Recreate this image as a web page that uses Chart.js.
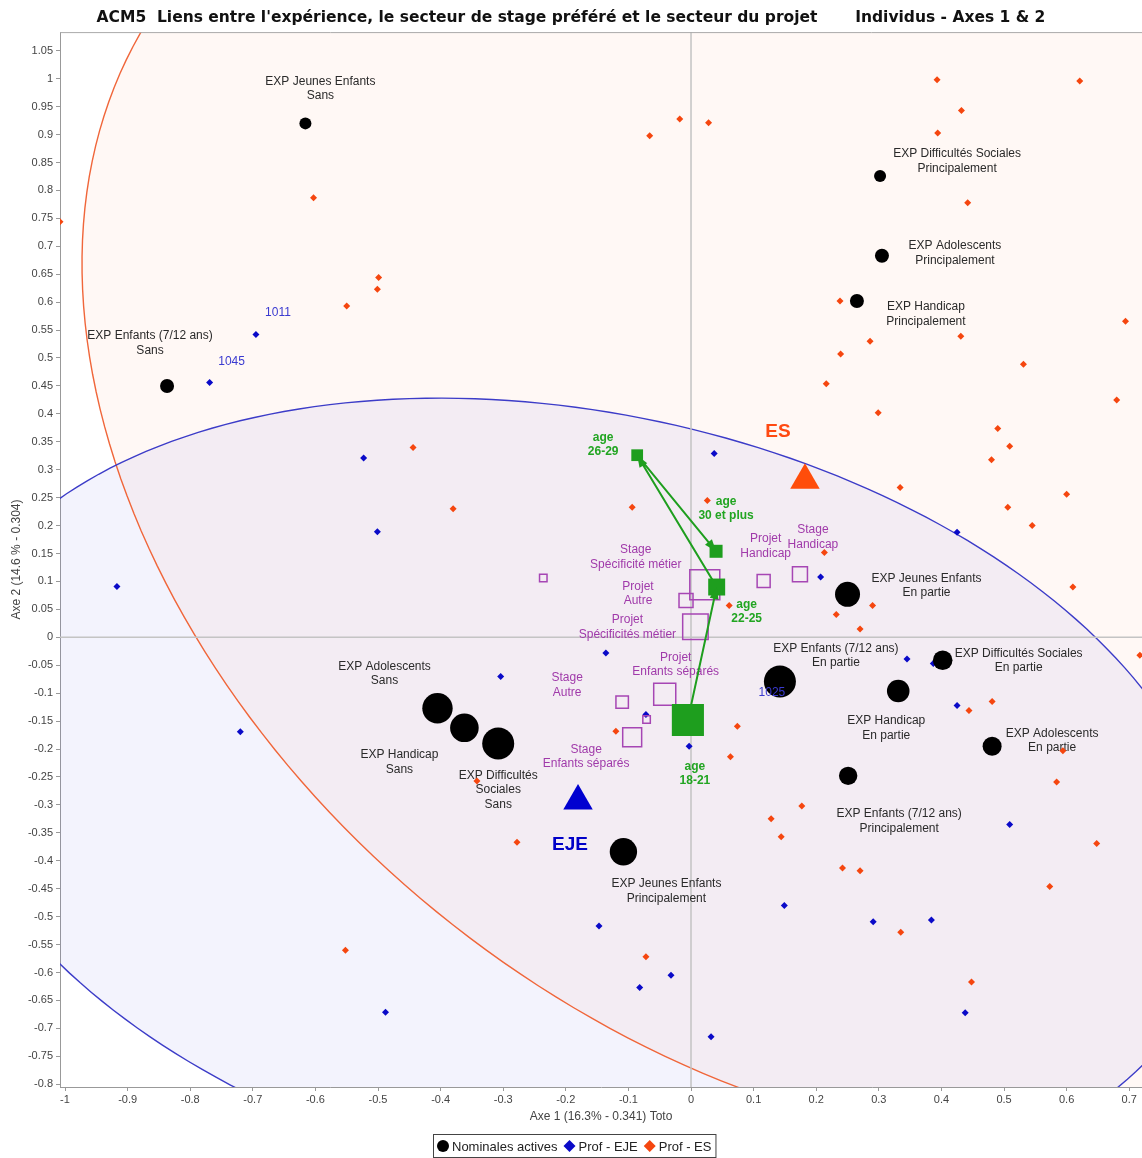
<!DOCTYPE html>
<html>
<head>
<meta charset="utf-8">
<title>ACM5 - Individus - Axes 1 & 2</title>
<script src="https://cdn.jsdelivr.net/npm/chart.js@4.4.1/dist/chart.umd.min.js"></script>
<style>
  html, body { margin: 0; padding: 0; background: #fff; }
</style>
</head>
<body>
<canvas id="acm" width="1142" height="1158"></canvas>
<script>
// ---- modalités actives (expérience) ----
const nomNames = [
  ['EXP Jeunes Enfants', 'Sans'],
  ['EXP Enfants (7/12 ans)', 'Sans'],
  ['EXP Difficultés Sociales', 'Principalement'],
  ['EXP Adolescents', 'Principalement'],
  ['EXP Handicap', 'Principalement'],
  ['EXP Jeunes Enfants', 'En partie'],
  ['EXP Enfants (7/12 ans)', 'En partie'],
  ['EXP Handicap', 'En partie'],
  ['EXP Difficultés Sociales', 'En partie'],
  ['EXP Adolescents', 'En partie'],
  ['EXP Enfants (7/12 ans)', 'Principalement'],
  ['EXP Jeunes Enfants', 'Principalement'],
  ['EXP Adolescents', 'Sans'],
  ['EXP Handicap', 'Sans'],
  ['EXP Difficultés', 'Sociales', 'Sans']
];
const nomX = [-0.616, -0.837, 0.302, 0.305, 0.265, 0.250, 0.142, 0.331, 0.402, 0.481, 0.251, -0.108, -0.405, -0.362, -0.308];
const nomY = [0.920, 0.450, 0.826, 0.683, 0.602, 0.077, -0.079, -0.096, -0.041, -0.195, -0.248, -0.384, -0.127, -0.162, -0.190];
const nomRadius = [6, 7, 6, 7, 7, 12.5, 16, 11.3, 9.8, 9.5, 9.2, 13.7, 15.2, 14.3, 16];
const nomLabelOffset = [[15, -42], [-17, -50], [77, -22], [73, -10], [69, 6], [79, -16], [56, -33], [-12, 30],
                        [76, -7], [60, -13], [51, 38], [43, 32], [-53, -42], [-65, 27], [0, 32]];

// ---- stage préféré / projet (supplémentaires) ----
const supNames = [
  null,
  ['Stage', 'Spécificité métier'],
  ['Projet', 'Autre'],
  ['Projet', 'Spécificités métier'],
  ['Projet', 'Handicap'],
  ['Stage', 'Handicap'],
  ['Projet', 'Enfants séparés'],
  ['Stage', 'Autre'],
  null,
  ['Stage', 'Enfants séparés']
];
const supX = [-0.236, 0.022, -0.008, 0.007, 0.116, 0.174, -0.042, -0.110, -0.071, -0.094];
const supY = [0.106, 0.094, 0.066, 0.019, 0.101, 0.113, -0.102, -0.116, -0.147, -0.179];
const supRadius = [5.3, 21.2, 9.9, 18, 9.2, 10.6, 15.6, 8.8, 5.3, 13.4];
const supLabelOffset = [null, [-69, -35], [-48, -14], [-68, -7], [2, -42], [13, -44], [11, -37], [-55, -24], null, [-46, 12]];

// ---- tranches d'âge (trajectoire) ----
const ageNames = [['age', '18-21'], ['age', '22-25'], ['age', '26-29'], ['age', '30 et plus']];
const ageX = [-0.005, 0.041, -0.086, 0.040];
const ageY = [-0.148, 0.090, 0.326, 0.154];
const ageRadius = [22.7, 12, 8.3, 9.2];
const ageLabelOffset = [[7, 47], [30, 18], [-34, -18], [10, -50]];

// ---- barycentres des secteurs ----
const secteurNames = ['ES', 'EJE'];
const secteurX = [0.182, -0.1805];
const secteurY = [0.281, -0.293];
const secteurLabelOffset = [[-27, -49], [-8, 44]];

// ---- ellipses de confiance (centre, demi-axes, angle en degrés) ----
const ellCx = [0.182, -0.1805];
const ellCy = [0.281, -0.293];
const ellSemiMajor = [1.352, 1.048];
const ellSemiMinor = [0.963, 0.690];
const ellAngle = [-47.8, -15.4];

// ---- individus : Prof - EJE ----
const ejeX = [-0.695, -0.769, -0.917, -0.523, -0.501, -0.720, -0.488, 0.037, -0.136, -0.304, -0.072, -0.003, -0.147,
              -0.032, -0.082, 0.032, 0.207, 0.425, 0.345, 0.387, 0.425, 0.509, 0.149, 0.291, 0.384, 0.438, 0.126];
const ejeY = [0.542, 0.456, 0.091, 0.321, 0.189, -0.169, -0.671, 0.329, -0.028, -0.070, -0.138, -0.195, -0.517,
              -0.605, -0.627, -0.715, 0.108, 0.188, -0.039, -0.047, -0.122, -0.335, -0.480, -0.509, -0.506, -0.672, -0.091];
const ejeIds = { 0: '1011', 1: '1045', 26: '1025' };
const ejeIdOffset = { 0: [22, -22], 1: [22, -21], 26: [2, 5] };

// ---- individus : Prof - ES ----
const esX = [-1.008, -0.603, -0.499, -0.501, -0.550, -0.444, -0.380, -0.094, 0.026, 0.061, -0.120, 0.074, 0.063,
             -0.342, -0.278, -0.552, -0.072, 0.128, 0.177, 0.144, 0.242, 0.270, 0.335, 0.448, 0.573, 0.648, 0.584,
             0.594, 0.481, 0.444, 0.717, 0.213, 0.290, 0.232, 0.270, 0.610, 0.334, 0.600, 0.506, 0.545, 0.480,
             0.490, 0.509, 0.299, 0.680, 0.393, 0.621, 0.432, 0.394, 0.442, 0.238, 0.694, 0.286, 0.431, 0.239,
             0.531, 0.216, -0.066, -0.018, 0.028];
const esY = [0.744, 0.787, 0.644, 0.623, 0.593, 0.340, 0.230, 0.233, 0.245, 0.057, -0.168, -0.159, -0.214,
             -0.257, -0.367, -0.560, -0.572, -0.325, -0.302, -0.357, -0.413, -0.418, -0.528, -0.617, -0.446, -0.369, -0.259,
             -0.203, -0.115, -0.131, -0.032, 0.152, 0.057, 0.041, 0.015, 0.090, 0.268, 0.256, 0.233, 0.200, 0.318,
             0.374, 0.342, 0.402, 0.425, 0.998, 0.996, 0.943, 0.903, 0.778, 0.602, 0.566, 0.530, 0.539, 0.507,
             0.489, 0.454, 0.898, 0.928, 0.921];

// ---- axes ----
const xTicks = [-1, -0.9, -0.8, -0.7, -0.6, -0.5, -0.4, -0.3, -0.2, -0.1, 0, 0.1, 0.2, 0.3, 0.4, 0.5, 0.6, 0.7];
const yTicks = [-0.8, -0.75, -0.7, -0.65, -0.6, -0.55, -0.5, -0.45, -0.4, -0.35, -0.3, -0.25, -0.2, -0.15, -0.1, -0.05,
                0, 0.05, 0.1, 0.15, 0.2, 0.25, 0.3, 0.35, 0.4, 0.45, 0.5, 0.55, 0.6, 0.65, 0.7, 0.75, 0.8, 0.85, 0.9,
                0.95, 1, 1.05];

const FONT = '"Liberation Sans", Arial, sans-serif';
const GREEN = '#1e9e1e';
const PURPLE = '#a646b4';
const BLUE = '#0a0ac8';
const ORANGE = '#f5460f';

const pts = (xs, ys) => xs.map((x, i) => ({ x: x, y: ys[i] }));

function traceEllipse(ctx, sx, sy, cx, cy, a, b, deg) {
  const th = deg * Math.PI / 180, c = Math.cos(th), s = Math.sin(th);
  ctx.beginPath();
  for (let i = 0; i <= 240; i++) {
    const t = i / 240 * 2 * Math.PI;
    const u = a * Math.cos(t), v = b * Math.sin(t);
    const px = sx.getPixelForValue(cx + u * c - v * s);
    const py = sy.getPixelForValue(cy + u * s + v * c);
    if (i) ctx.lineTo(px, py); else ctx.moveTo(px, py);
  }
  ctx.closePath();
}

function textBlock(ctx, lines, x, y, lh) {
  lines.forEach((t, k) => ctx.fillText(t, x, y + k * lh));
}

const acmDecor = {
  id: 'acmDecor',
  beforeDatasetsDraw(chart) {
    const { ctx, chartArea: ca, scales: { x: sx, y: sy } } = chart;
    ctx.save();
    ctx.beginPath();
    ctx.rect(ca.left, ca.top, ca.right - ca.left, ca.bottom - ca.top);
    ctx.clip();

    // ellipses ES puis EJE
    const fills = ['rgba(255,120,60,0.05)', 'rgba(80,80,220,0.07)'];
    const strokes = ['#f0663a', '#3c3cc8'];
    for (let k = 0; k < 2; k++) {
      traceEllipse(ctx, sx, sy, ellCx[k], ellCy[k], ellSemiMajor[k], ellSemiMinor[k], ellAngle[k]);
      ctx.fillStyle = fills[k];
      ctx.fill();
    }
    for (let k = 0; k < 2; k++) {
      traceEllipse(ctx, sx, sy, ellCx[k], ellCy[k], ellSemiMajor[k], ellSemiMinor[k], ellAngle[k]);
      ctx.strokeStyle = strokes[k];
      ctx.lineWidth = 1.4;
      ctx.stroke();
    }

    // axes du plan factoriel
    ctx.strokeStyle = '#c4c4c4';
    ctx.lineWidth = 1.5;
    const x0 = sx.getPixelForValue(0), y0 = sy.getPixelForValue(0);
    ctx.beginPath();
    ctx.moveTo(x0, ca.top); ctx.lineTo(x0, ca.bottom);
    ctx.moveTo(ca.left, y0); ctx.lineTo(ca.right, y0);
    ctx.stroke();

    // étiquettes
    ctx.textAlign = 'center';
    ctx.textBaseline = 'middle';
    ctx.font = '12px ' + FONT;
    ctx.fillStyle = '#2a2a2a';
    nomNames.forEach((lines, i) => {
      const o = nomLabelOffset[i];
      textBlock(ctx, lines, sx.getPixelForValue(nomX[i]) + o[0], sy.getPixelForValue(nomY[i]) + o[1], 14.5);
    });
    ctx.fillStyle = '#a03aaa';
    supNames.forEach((lines, i) => {
      if (!lines) return;
      const o = supLabelOffset[i];
      textBlock(ctx, lines, sx.getPixelForValue(supX[i]) + o[0], sy.getPixelForValue(supY[i]) + o[1], 14.5);
    });
    ctx.font = 'bold 12px ' + FONT;
    ctx.fillStyle = '#22a522';
    ageNames.forEach((lines, i) => {
      const o = ageLabelOffset[i];
      textBlock(ctx, lines, sx.getPixelForValue(ageX[i]) + o[0], sy.getPixelForValue(ageY[i]) + o[1], 14);
    });
    ctx.font = 'bold 19px ' + FONT;
    const secColors = ['#ff4a12', '#0000c8'];
    secteurNames.forEach((t, i) => {
      const o = secteurLabelOffset[i];
      ctx.fillStyle = secColors[i];
      ctx.fillText(t, sx.getPixelForValue(secteurX[i]) + o[0], sy.getPixelForValue(secteurY[i]) + o[1]);
    });
    ctx.restore();
  },
  afterDatasetsDraw(chart) {
    const { ctx, chartArea: ca, scales: { x: sx, y: sy } } = chart;
    ctx.save();
    ctx.beginPath();
    ctx.rect(ca.left, ca.top, ca.right - ca.left, ca.bottom - ca.top);
    ctx.clip();

    // pointes de flèche de la trajectoire d'âge
    ctx.fillStyle = GREEN;
    for (let i = 1; i < ageX.length; i++) {
      const x1 = sx.getPixelForValue(ageX[i - 1]), y1 = sy.getPixelForValue(ageY[i - 1]);
      const x2 = sx.getPixelForValue(ageX[i]), y2 = sy.getPixelForValue(ageY[i]);
      const ang = Math.atan2(y2 - y1, x2 - x1);
      const len = 12, half = 4.5;
      const bx = x2 - len * Math.cos(ang), by = y2 - len * Math.sin(ang);
      ctx.beginPath();
      ctx.moveTo(x2, y2);
      ctx.lineTo(bx + half * Math.sin(ang), by - half * Math.cos(ang));
      ctx.lineTo(bx - half * Math.sin(ang), by + half * Math.cos(ang));
      ctx.closePath();
      ctx.fill();
    }

    // numéros d'individus
    ctx.font = '12px ' + FONT;
    ctx.fillStyle = '#3a3ad0';
    ctx.textAlign = 'center';
    ctx.textBaseline = 'middle';
    Object.keys(ejeIds).forEach(k => {
      const o = ejeIdOffset[k];
      ctx.fillText(ejeIds[k], sx.getPixelForValue(ejeX[k]) + o[0], sy.getPixelForValue(ejeY[k]) + o[1]);
    });
    ctx.restore();
  },
  afterDraw(chart) {
    const { ctx, chartArea: ca } = chart;
    ctx.save();
    // bord supérieur du cadre
    ctx.strokeStyle = '#aaaaaa';
    ctx.lineWidth = 1;
    ctx.beginPath();
    ctx.moveTo(ca.left, ca.top + 0.5);
    ctx.lineTo(ca.right, ca.top + 0.5);
    ctx.stroke();

    // légende
    ctx.font = '13px ' + FONT;
    ctx.textBaseline = 'middle';
    ctx.textAlign = 'left';
    const items = [
      { text: 'Nominales actives', color: '#000', shape: 'circle' },
      { text: 'Prof - EJE', color: BLUE, shape: 'diamond' },
      { text: 'Prof - ES', color: ORANGE, shape: 'diamond' }
    ];
    const sym = 12, gap = 3, sep = 6, pad = 4;
    let total = pad * 2;
    items.forEach((it, i) => { total += sym + gap + ctx.measureText(it.text).width + (i ? sep : 0); });
    const boxLeft = Math.round(574 - total / 2), boxTop = 1134, cy = 1146;
    ctx.strokeStyle = '#444';
    ctx.strokeRect(boxLeft + 0.5, boxTop + 0.5, total, 23);
    let x = boxLeft + pad;
    items.forEach((it, i) => {
      if (i) x += sep;
      ctx.fillStyle = it.color;
      ctx.beginPath();
      if (it.shape === 'circle') {
        ctx.arc(x + sym / 2, cy, 6, 0, 2 * Math.PI);
      } else {
        ctx.moveTo(x + sym / 2, cy - 6); ctx.lineTo(x + sym, cy);
        ctx.lineTo(x + sym / 2, cy + 6); ctx.lineTo(x, cy);
        ctx.closePath();
      }
      ctx.fill();
      x += sym + gap;
      ctx.fillStyle = '#222';
      ctx.fillText(it.text, x, cy + 1);
      x += ctx.measureText(it.text).width;
    });
    ctx.restore();
  }
};

const tickFmt = v => String(+Number(v).toFixed(2));

new Chart(document.getElementById('acm'), {
  type: 'scatter',
  data: {
    datasets: [
      {
        label: 'Secteurs',
        data: pts(secteurX, secteurY),
        pointStyle: 'triangle',
        pointRadius: 17,
        backgroundColor: ['#ff4d0a', '#0000d0'],
        borderWidth: 0,
        order: 1
      },
      {
        label: 'Nominales actives',
        data: pts(nomX, nomY),
        pointStyle: 'circle',
        pointRadius: nomRadius,
        backgroundColor: '#000',
        borderWidth: 0,
        order: 2
      },
      {
        label: 'age',
        data: pts(ageX, ageY),
        showLine: true,
        borderColor: GREEN,
        borderWidth: 2,
        pointStyle: 'rect',
        pointRadius: ageRadius,
        pointBackgroundColor: GREEN,
        pointBorderWidth: 0,
        order: 3
      },
      {
        label: 'Stage / Projet',
        data: pts(supX, supY),
        pointStyle: 'rect',
        pointRadius: supRadius,
        pointBackgroundColor: 'rgba(0,0,0,0)',
        pointBorderColor: PURPLE,
        pointBorderWidth: 1.5,
        order: 4
      },
      {
        label: 'Prof - EJE',
        data: pts(ejeX, ejeY),
        pointStyle: 'rectRot',
        pointRadius: 3.5,
        backgroundColor: BLUE,
        borderWidth: 0,
        order: 5
      },
      {
        label: 'Prof - ES',
        data: pts(esX, esY),
        pointStyle: 'rectRot',
        pointRadius: 3.5,
        backgroundColor: ORANGE,
        borderWidth: 0,
        order: 6
      }
    ]
  },
  options: {
    responsive: false,
    animation: false,
    devicePixelRatio: 1,
    events: [],
    layout: { padding: 0, autoPadding: false },
    plugins: {
      legend: { display: false },
      tooltip: { enabled: false },
      title: {
        display: true,
        text: 'ACM5  Liens entre l\'expérience, le secteur de stage préféré et le secteur du projet       Individus - Axes 1 & 2',
        color: '#111',
        font: { family: '"DejaVu Sans", Verdana, sans-serif', size: 15.5, weight: 'bold' },
        padding: { top: 9, bottom: 4.5 }
      }
    },
    scales: {
      x: {
        type: 'linear',
        min: -1.008,
        max: 0.7204,
        afterBuildTicks: s => { s.ticks = xTicks.map(v => ({ value: v })); },
        afterFit: s => { s.height = 71; },
        grid: { drawOnChartArea: false, tickLength: 4, color: '#999' },
        border: { color: '#999', width: 1 },
        ticks: { autoSkip: false, maxRotation: 0, padding: 2, color: '#444', font: { family: FONT, size: 11 }, callback: tickFmt },
        title: {
          display: true,
          text: 'Axe 1 (16.3% - 0.341) Toto',
          color: '#444',
          font: { family: FONT, size: 12 },
          padding: { top: 4, bottom: 34 }
        }
      },
      y: {
        type: 'linear',
        min: -0.805,
        max: 1.0834,
        afterBuildTicks: s => { s.ticks = yTicks.map(v => ({ value: v })); },
        afterFit: s => { s.width = 60; },
        grid: { drawOnChartArea: false, tickLength: 4, color: '#999' },
        border: { color: '#999', width: 1 },
        ticks: { autoSkip: false, padding: 3, color: '#444', font: { family: FONT, size: 11 }, callback: tickFmt },
        title: {
          display: true,
          text: 'Axe 2 (14.6 % - 0.304)',
          color: '#444',
          font: { family: FONT, size: 12 },
          padding: { top: 9, bottom: 0 }
        }
      }
    }
  },
  plugins: [acmDecor]
});
</script>
</body>
</html>
